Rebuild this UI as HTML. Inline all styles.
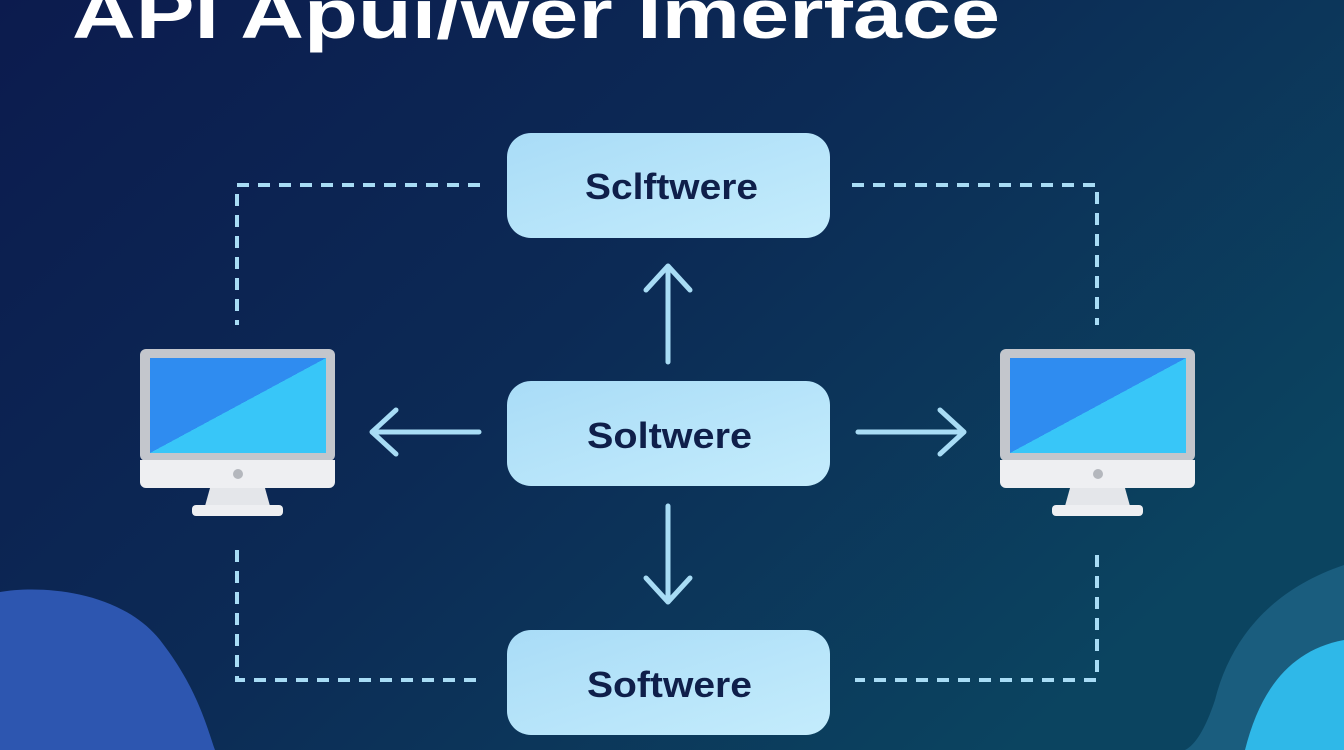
<!DOCTYPE html>
<html><head><meta charset="utf-8"><style>
html,body{margin:0;padding:0;width:1344px;height:750px;overflow:hidden}
svg{display:block}
text{font-family:"Liberation Sans","DejaVu Sans",sans-serif;font-weight:bold}
</style></head><body>
<svg width="1344" height="750" viewBox="0 0 1344 750" xmlns="http://www.w3.org/2000/svg">
<defs>
<linearGradient id="bg" x1="0" y1="0" x2="1" y2="0.6">
<stop offset="0" stop-color="#0c1b4e"/><stop offset="0.5" stop-color="#0c2a55"/><stop offset="1" stop-color="#0b4460"/>
</linearGradient>
<linearGradient id="box" x1="0" y1="0" x2="1" y2="1">
<stop offset="0" stop-color="#a9dcf7"/><stop offset="1" stop-color="#c4ecfc"/>
</linearGradient>
<linearGradient id="scr" x1="0" y1="0" x2="1" y2="1">
<stop offset="0.5" stop-color="#2f8cf0"/><stop offset="0.5" stop-color="#38c6f8"/>
</linearGradient>
<g id="mon">
<rect x="0" y="0" width="195" height="112" rx="6" fill="#c3c6cc"/>
<rect x="10" y="9" width="176" height="95" fill="url(#scr)"/>
<path d="M0 111 H195 V133 a6 6 0 0 1 -6 6 H6 a6 6 0 0 1 -6 -6Z" fill="#eeeff2"/>
<circle cx="98" cy="125" r="5" fill="#b4b7bd"/>
<path d="M70 139 H125 L130 157 H65Z" fill="#e4e6ea"/>
<rect x="52" y="156" width="91" height="11" rx="4" fill="#eeeff2"/>
</g>
</defs>
<rect width="1344" height="750" fill="url(#bg)"/>
<path d="M0 592 C40 585 120 590 160 640 C195 685 205 720 215 750 H0Z" fill="#2d56b0"/>
<path d="M1344 565 C1270 590 1230 640 1215 700 C1205 730 1195 745 1185 750 H1344Z" fill="#1a5d7e"/>
<path d="M1344 640 C1290 650 1260 690 1245 750 H1344Z" fill="#2fb8e8"/>
<text x="72" y="38" font-size="70" fill="#ffffff" textLength="928" lengthAdjust="spacingAndGlyphs">API Apui/wer Imerface</text>
<g stroke="#a8dcf5" stroke-width="4" fill="none" stroke-dasharray="12 9">
<path d="M480 185 H237 V325"/>
<path d="M237 550 V680 H480"/>
<path d="M852 185 H1097 V325"/>
<path d="M1097 555 V680 H855"/>
</g>
<g stroke="#a8dcf5" stroke-width="5" fill="none" stroke-linecap="round" stroke-linejoin="round">
<path d="M668 362 V266 M646 290 L668 266 L690 290"/>
<path d="M668 506 V602 M646 578 L668 602 L690 578"/>
<path d="M479 432 H372 M396 410 L372 432 L396 454"/>
<path d="M858 432 H964 M940 410 L964 432 L940 454"/>
</g>
<rect x="507" y="133" width="323" height="105" rx="24" fill="url(#box)"/>
<rect x="507" y="381" width="323" height="105" rx="24" fill="url(#box)"/>
<rect x="507" y="630" width="323" height="105" rx="24" fill="url(#box)"/>
<g font-size="36" fill="#0f1f4a" lengthAdjust="spacingAndGlyphs">
<text x="585" y="199" textLength="173" lengthAdjust="spacingAndGlyphs">Sclftwere</text>
<text x="587" y="448" textLength="165" lengthAdjust="spacingAndGlyphs">Soltwere</text>
<text x="587" y="697" textLength="165" lengthAdjust="spacingAndGlyphs">Softwere</text>
</g>
<use href="#mon" x="140" y="349"/>
<use href="#mon" x="1000" y="349"/>
</svg>
</body></html>
